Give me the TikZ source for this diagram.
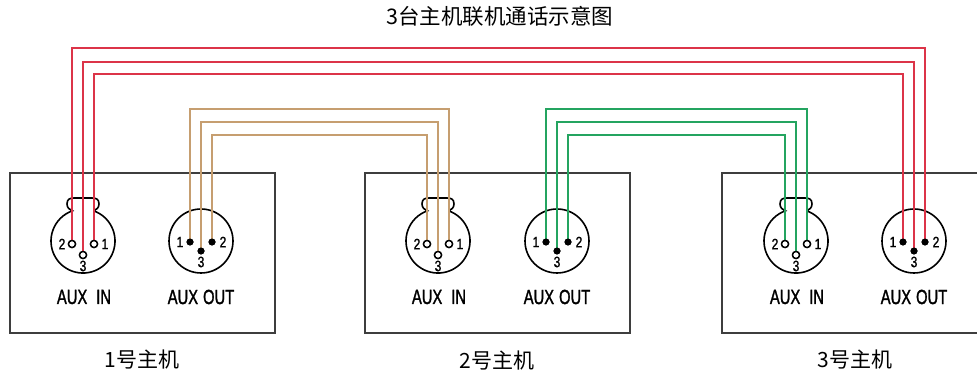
\documentclass[tikz,border=0pt]{standalone}
\usepackage{fontspec}
\setmainfont{Liberation Sans}
\newfontfamily\cjk{Noto Sans CJK SC}
\newfontfamily\narrowf[FakeStretch=0.72,FakeBold=1.4]{Liberation Sans}
\newfontfamily\pinf[FakeStretch=0.8,FakeBold=1.2]{Liberation Sans}
\definecolor{wred}{RGB}{220,52,72}
\definecolor{wbrown}{RGB}{198,158,112}
\definecolor{wgreen}{RGB}{36,164,96}
\definecolor{boxgray}{RGB}{62,62,62}
\tikzset{
  x=1pt,y=1pt,
  hostbox/.style={draw=boxgray,line width=2pt},
  jack/.style={draw=black,line width=1.6pt},
  openpin/.style={circle,draw=black,line width=1.4pt,fill=white,inner sep=0pt,minimum size=7pt},
  dotpin/.style={circle,fill=black,inner sep=0pt,minimum size=7pt},
  pinlbl/.style={font=\pinf\fontsize{15}{15}\selectfont,inner sep=0pt},
  auxlbl/.style={font=\narrowf\fontsize{20.5}{20.5}\selectfont,inner sep=0pt},
  cjklbl/.style={font=\cjk\fontsize{21}{21}\selectfont,inner sep=0pt},
  wire/.style={line width=2pt},
  xlrin/.pic={
    \draw[jack] (10.5,30.2) arc[start angle=70.85,end angle=-250.85,radius=32]
      .. controls (-13,31) and (-16,33) .. (-16,37)
      .. controls (-16,42) and (-13,43) .. (-9,43) -- (9,43)
      .. controls (13,43) and (16,42) .. (16,37)
      .. controls (16,33) and (13,31) .. (10.5,30.2);
    \node[openpin] (-p2) at (-11,-3) {};
    \node[openpin] (-p1) at (11,-3) {};
    \node[openpin] (-p3) at (0,-14) {};
    \node[pinlbl] (-l2) at (-21,-3) {2};
    \node[pinlbl] (-l1) at (22,-3) {1};
    \node[pinlbl] (-l3) at (0,-25) {3};
    \node[auxlbl] (-name) at (1,-56) {AUX\hspace{9pt}IN};
  },
  xlrout/.pic={
    \draw[jack] (0,0) circle[radius=32];
    \node[dotpin] (-p1) at (-11,-1) {};
    \node[dotpin] (-p2) at (11,-1) {};
    \node[dotpin] (-p3) at (0,-10) {};
    \node[pinlbl] (-l1) at (-21,-1) {1};
    \node[pinlbl] (-l2) at (22,-1) {2};
    \node[pinlbl] (-l3) at (0,-21) {3};
    \node[auxlbl] (-name) at (0,-56) {AUX\hspace{5pt}OUT};
  }
}
\begin{document}
\begin{tikzpicture}
\clip (0,0) rectangle (977,374);
\fill[white] (0,0) rectangle (977,374);
% title
\node[cjklbl,font=\cjk\fontsize{21.5}{21.5}\selectfont] (title) at (500,358) {3台主机联机通话示意图};
% host boxes
\draw[hostbox] (10,41) rectangle (275,201);
\draw[hostbox] (365,41) rectangle (630,201);
\draw[hostbox] (722,41) rectangle (992,201);
\node[cjklbl] (h1) at (142,14) {1号主机};
\node[cjklbl] (h2) at (497,13) {2号主机};
\node[cjklbl] (h3) at (855,14) {3号主机};
% connectors
\pic (i1) at (83,133) {xlrin};
\pic (o1) at (201,133) {xlrout};
\pic (i2) at (438,133) {xlrin};
\pic (o2) at (557,133) {xlrout};
\pic (i3) at (796,133) {xlrin};
\pic (o3) at (914,133) {xlrout};
% routing levels
\coordinate (rA) at (0,326);
\coordinate (rB) at (0,312);
\coordinate (rC) at (0,300);
\coordinate (bA) at (0,265);
\coordinate (bB) at (0,252);
\coordinate (bC) at (0,239);
% red wires: host1 AUX IN <- host3 AUX OUT
\draw[wire,wred] (i1-p2.north) -- (i1-p2 |- rA) -| (o3-p2.center);
\draw[wire,wred] (i1-p3.north) -- (i1-p3 |- rB) -| (o3-p3.center);
\draw[wire,wred] (i1-p1.north) -- (i1-p1 |- rC) -| (o3-p1.center);
% brown wires: host1 AUX OUT -> host2 AUX IN
\draw[wire,wbrown] (o1-p1.center) -- (o1-p1 |- bA) -| (i2-p1.north);
\draw[wire,wbrown] (o1-p3.center) -- (o1-p3 |- bB) -| (i2-p3.north);
\draw[wire,wbrown] (o1-p2.center) -- (o1-p2 |- bC) -| (i2-p2.north);
% green wires: host2 AUX OUT -> host3 AUX IN
\draw[wire,wgreen] (o2-p1.center) -- (o2-p1 |- bA) -| (i3-p1.north);
\draw[wire,wgreen] (o2-p3.center) -- (o2-p3 |- bB) -| (i3-p3.north);
\draw[wire,wgreen] (o2-p2.center) -- (o2-p2 |- bC) -| (i3-p2.north);
% redraw pins on top of wires
\foreach \j in {i1,i2,i3}{
  \node[openpin] at (\j-p1) {};
  \node[openpin] at (\j-p2) {};
  \node[openpin] at (\j-p3) {};
}
\foreach \j in {o1,o2,o3}{
  \node[dotpin] at (\j-p1) {};
  \node[dotpin] at (\j-p2) {};
  \node[dotpin] at (\j-p3) {};
}
\end{tikzpicture}
\end{document}
